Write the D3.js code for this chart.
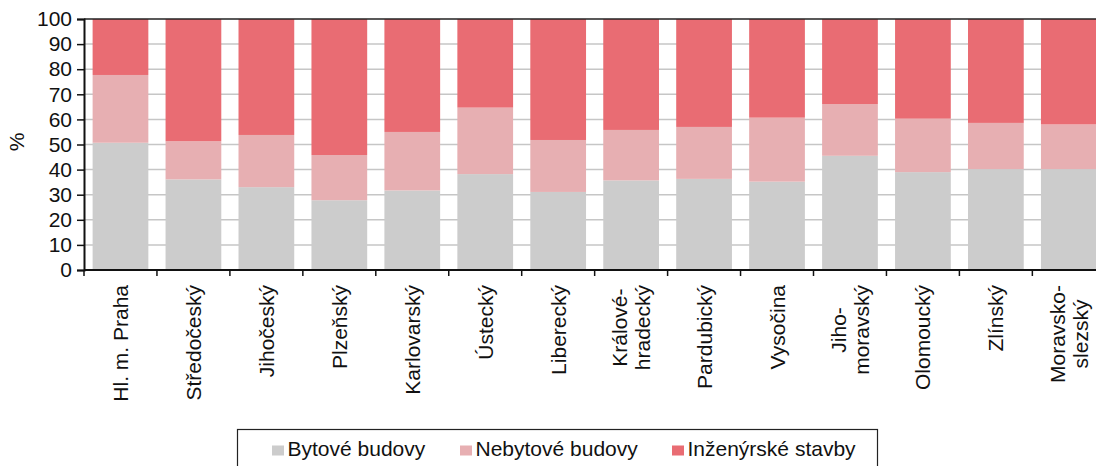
<!DOCTYPE html>
<html><head><meta charset="utf-8">
<script src="https://cdn.jsdelivr.net/npm/d3@7"></script>
<style>
html,body{margin:0;padding:0;background:#fff;overflow:hidden}
svg{display:block;font-family:Arial,"Liberation Sans",sans-serif}
</style></head>
<body><svg id="c" width="1096" height="466"></svg>
<script>
const categories = ["Hl. m. Praha","Středočeský","Jihočeský","Plzeňský","Karlovarský","Ústecký","Liberecký","Králové-\nhradecký","Pardubický","Vysočina","Jiho-\nmoravský","Olomoucký","Zlínský","Moravsko-\nslezský"];
const seriesNames = ["Bytové budovy","Nebytové budovy","Inženýrské stavby"];
const bytove     = [50.7,36.1,33.0,27.8,31.7,38.2,31.1,35.7,36.3,35.2,45.5,39.0,40.2,40.2];
const nebytove   = [27.0,15.2,20.8,18.0,23.3,26.5,20.7,20.1,20.7,25.5,20.6,21.3,18.4,17.8];
const inzenyrske = [22.3,48.7,46.2,54.2,45.0,35.3,48.2,44.2,43.0,39.3,33.9,39.7,41.4,42.0];
const yTicks = [0,10,20,30,40,50,60,70,80,90,100];
const colors = ["#cccccc","#e7afb2","#e96c73"];

const svg = d3.select("#c");
const pLeft = 84, pRight = 1105.3, pTop = 19, pBottom = 270;

const rows = categories.map((c,i)=>({cat:c, [seriesNames[0]]:bytove[i], [seriesNames[1]]:nebytove[i], [seriesNames[2]]:inzenyrske[i]}));
const stack = d3.stack().keys(seriesNames)(rows);

const x = d3.scaleBand().domain(categories).range([pLeft,pRight]).paddingInner(0.236).paddingOuter(0.118);
const y = d3.scaleLinear().domain([0,100]).range([pBottom,pTop]);

// gridlines
svg.append("g").selectAll("line").data(yTicks.filter(t=>t>0&&t<100)).join("line")
  .attr("x1",pLeft).attr("x2",1096).attr("y1",d=>y(d)).attr("y2",d=>y(d))
  .attr("stroke","#c6c6c6").attr("stroke-width",1.5);

// bars
svg.append("g").selectAll("g").data(stack).join("g").attr("fill",(d,i)=>colors[i])
  .selectAll("rect").data(d=>d).join("rect")
  .attr("x",d=>x(d.data.cat)).attr("width",x.bandwidth())
  .attr("y",d=>y(d[1])).attr("height",d=>y(d[0])-y(d[1]));

// top border
svg.append("line").attr("x1",pLeft).attr("x2",1096).attr("y1",y(100)).attr("y2",y(100))
  .attr("stroke","#222").attr("stroke-width",1.5);

// y axis
const yAx = svg.append("g").attr("transform",`translate(${pLeft},0)`)
  .call(d3.axisLeft(y).tickValues(yTicks).tickSize(7).tickPadding(5));
yAx.select(".domain").attr("stroke","#111").attr("stroke-width",2);
yAx.selectAll(".tick line").attr("stroke","#111").attr("stroke-width",1.5);
yAx.selectAll(".tick text").attr("font-size",21).attr("fill","#111").attr("font-family","Arial, 'Liberation Sans', sans-serif");

// x axis line and ticks at band boundaries
const step = x.step();
const bounds = categories.map(c=>x(c)-step*x.paddingInner()/2);
bounds.push(x(categories[categories.length-1])+x.bandwidth()+step*x.paddingInner()/2);
svg.append("line").attr("x1",pLeft).attr("x2",1096).attr("y1",pBottom).attr("y2",pBottom)
  .attr("stroke","#111").attr("stroke-width",2);
svg.append("g").selectAll("line").data(bounds).join("line")
  .attr("x1",d=>d).attr("x2",d=>d).attr("y1",pBottom).attr("y2",pBottom+6)
  .attr("stroke","#111").attr("stroke-width",1.5);

// x labels
const lab = svg.append("g").attr("font-size",21).attr("fill","#111");
categories.forEach(c=>{
  const lines = c.split("\n");
  const cx = x(c)+x.bandwidth()/2;
  const lh = 22.5;
  const g = lab.append("g").attr("transform",`translate(${cx},285) rotate(-90)`);
  const n = lines.length;
  const texts = lines.map((l,k)=>g.append("text").text(l)
     .attr("x",0).attr("y",(k-(n-1)/2)*lh).attr("dy","0.36em"));
  const maxW = d3.max(texts,t=>t.node().getComputedTextLength());
  texts.forEach(t=>t.attr("text-anchor","middle").attr("x",-maxW/2));
});

// y title
svg.append("text").text("%").attr("font-size",21).attr("fill","#111")
  .attr("text-anchor","middle").attr("transform","translate(24,142) rotate(-90)");

// legend
const lg = svg.append("g");
lg.append("rect").attr("x",237.5).attr("y",429.5).attr("width",640).attr("height",40)
  .attr("fill","#fff").attr("stroke","#222").attr("stroke-width",1.2);
const lx = [272,460,672];
seriesNames.forEach((s,i)=>{
  lg.append("rect").attr("x",lx[i]).attr("y",445.5).attr("width",12).attr("height",10).attr("fill",colors[i]);
  lg.append("text").text(s).attr("x",lx[i]+15.5).attr("y",455.5).attr("font-size",21).attr("fill","#111");
});
</script></body></html>
